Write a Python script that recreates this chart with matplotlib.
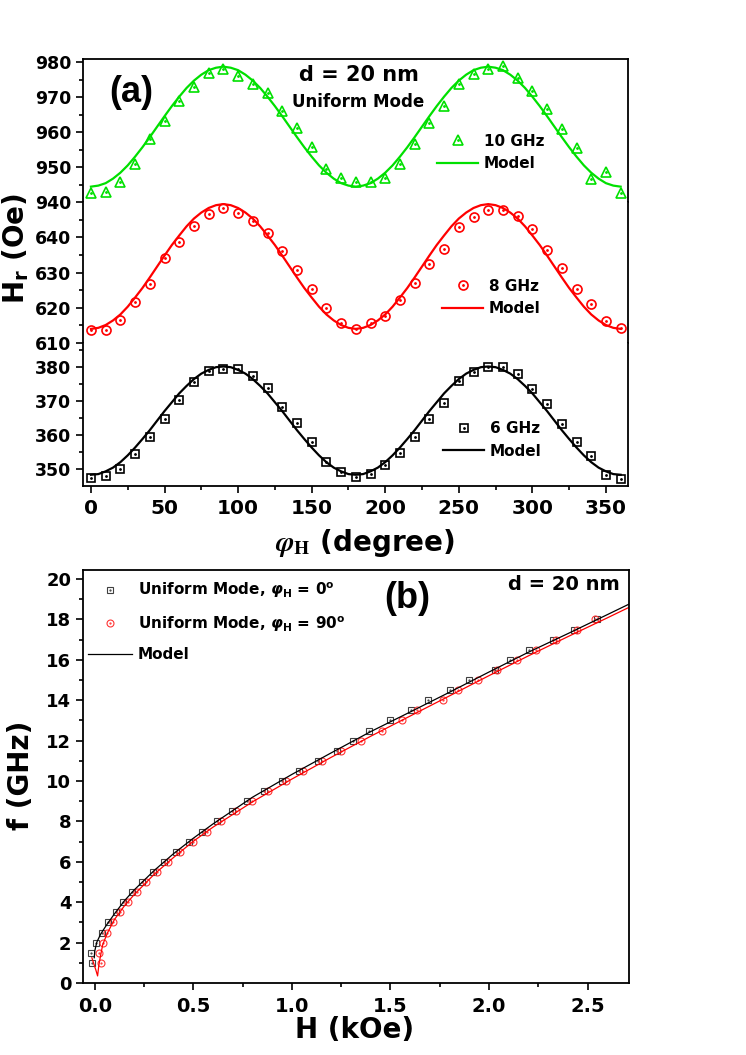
import matplotlib
matplotlib.use("Agg")
import matplotlib.pyplot as plt

plt.rcParams['font.family'] = ['DejaVu Sans']
plt.rcParams['font.weight'] = 'bold'
plt.rcParams['mathtext.fontset'] = 'dejavusans'

# (a) angular dependence of the resonance field
phi = [0, 10, 20, 30, 40, 50, 60, 70, 80, 90, 100, 110, 120, 130, 140, 150, 160, 170, 180,
       190, 200, 210, 220, 230, 240, 250, 260, 270, 280, 290, 300, 310, 320, 330, 340, 350, 360]

hr_10ghz = [942.5, 943.0, 945.8, 951.0, 958.0, 963.3, 968.9, 972.9, 977.0, 978.2, 976.0, 973.9,
            971.3, 966.0, 961.2, 955.9, 949.4, 947.0, 945.6, 945.8, 947.0, 951.0, 956.6, 962.6,
            967.4, 973.9, 976.7, 978.2, 978.9, 975.5, 971.9, 966.7, 961.0, 955.6, 946.5, 948.7, 942.5]
hr_8ghz = [613.7, 613.8, 616.5, 621.5, 626.8, 634.0, 638.7, 643.1, 646.7, 648.3, 647.0, 644.6,
           641.2, 636.1, 630.7, 625.3, 619.8, 615.6, 614.0, 615.6, 617.7, 622.2, 626.9, 632.4,
           636.8, 643.0, 645.8, 647.7, 647.7, 646.1, 642.4, 636.3, 631.2, 625.4, 621.0, 616.3, 614.2]
hr_6ghz = [347.3, 348.0, 350.0, 354.5, 359.5, 364.8, 370.3, 375.6, 378.8, 379.3, 379.3, 377.4,
           373.9, 368.2, 363.6, 358.0, 352.1, 349.0, 347.6, 348.5, 351.2, 354.6, 359.5, 364.7,
           369.3, 375.9, 378.4, 379.9, 379.9, 377.9, 373.4, 369.0, 363.1, 358.0, 353.8, 348.2, 347.1]

# model curves, read every 5 degrees
phi_model = [0, 5, 10, 15, 20, 25, 30, 35, 40, 45, 50, 55, 60, 65, 70, 75, 80, 85, 90,
             95, 100, 105, 110, 115, 120, 125, 130, 135, 140, 145, 150, 155, 160, 165, 170, 175, 180,
             185, 190, 195, 200, 205, 210, 215, 220, 225, 230, 235, 240, 245, 250, 255, 260, 265, 270,
             275, 280, 285, 290, 295, 300, 305, 310, 315, 320, 325, 330, 335, 340, 345, 350, 355, 360]
model_10ghz = [944.4, 944.7, 945.4, 946.7, 948.4, 950.5, 953.0, 955.7, 958.6, 961.6, 964.6, 967.5,
               970.2, 972.7, 974.8, 976.5, 977.8, 978.5, 978.8,
               978.5, 977.8, 976.5, 974.8, 972.7, 970.2, 967.5, 964.6, 961.6, 958.6, 955.7, 953.0,
               950.5, 948.4, 946.7, 945.4, 944.7, 944.4,
               944.7, 945.4, 946.7, 948.4, 950.5, 953.0, 955.7, 958.6, 961.6, 964.6, 967.5,
               970.2, 972.7, 974.8, 976.5, 977.8, 978.5, 978.8,
               978.5, 977.8, 976.5, 974.8, 972.7, 970.2, 967.5, 964.6, 961.6, 958.6, 955.7, 953.0,
               950.5, 948.4, 946.7, 945.4, 944.7, 944.4]
model_8ghz = [614.0, 614.3, 615.1, 616.4, 618.1, 620.3, 622.9, 625.6, 628.6, 631.7, 634.8, 637.8,
              640.5, 643.1, 645.3, 647.0, 648.3, 649.1, 649.4,
              649.1, 648.3, 647.0, 645.3, 643.1, 640.5, 637.8, 634.8, 631.7, 628.6, 625.6, 622.9,
              620.3, 618.1, 616.4, 615.1, 614.3, 614.0,
              614.3, 615.1, 616.4, 618.1, 620.3, 622.9, 625.6, 628.6, 631.7, 634.8, 637.8,
              640.5, 643.1, 645.3, 647.0, 648.3, 649.1, 649.4,
              649.1, 648.3, 647.0, 645.3, 643.1, 640.5, 637.8, 634.8, 631.7, 628.6, 625.6, 622.9,
              620.3, 618.1, 616.4, 615.1, 614.3, 614.0]
model_6ghz = [348.3, 348.5, 349.3, 350.4, 352.0, 354.0, 356.3, 358.8, 361.4, 364.2, 367.0, 369.6,
              372.2, 374.4, 376.4, 378.0, 379.1, 379.9, 380.1,
              379.9, 379.1, 378.0, 376.4, 374.4, 372.2, 369.6, 367.0, 364.2, 361.4, 358.8, 356.3,
              354.0, 352.0, 350.4, 349.3, 348.5, 348.3,
              348.5, 349.3, 350.4, 352.0, 354.0, 356.3, 358.8, 361.4, 364.2, 367.0, 369.6,
              372.2, 374.4, 376.4, 378.0, 379.1, 379.9, 380.1,
              379.9, 379.1, 378.0, 376.4, 374.4, 372.2, 369.6, 367.0, 364.2, 361.4, 358.8, 356.3,
              354.0, 352.0, 350.4, 349.3, 348.5, 348.3]

# (b) frequency vs field
freq = [1, 1.5, 2, 2.5, 3, 3.5, 4, 4.5, 5, 5.5, 6, 6.5, 7, 7.5, 8, 8.5, 9, 9.5, 10, 10.5,
        11, 11.5, 12, 12.5, 13, 13.5, 14, 14.5, 15, 15.5, 16, 16.5, 17, 17.5, 18]
h_phi0 = [-0.012, -0.017, 0.008, 0.034, 0.068, 0.105, 0.144, 0.188, 0.239, 0.293, 0.349, 0.411,
          0.476, 0.543, 0.618, 0.697, 0.770, 0.858, 0.948, 1.036, 1.130, 1.227, 1.311, 1.390,
          1.497, 1.604, 1.689, 1.802, 1.898, 2.030, 2.107, 2.205, 2.323, 2.431, 2.546]
h_phi90 = [0.029, 0.020, 0.039, 0.063, 0.093, 0.127, 0.169, 0.212, 0.259, 0.313, 0.369, 0.431,
           0.496, 0.567, 0.638, 0.716, 0.799, 0.880, 0.968, 1.058, 1.154, 1.247, 1.349, 1.455,
           1.557, 1.633, 1.765, 1.844, 1.946, 2.039, 2.140, 2.237, 2.339, 2.448, 2.535]

model0_h = [-0.003, 0.0, 0.01, 0.03, 0.06, 0.1, 0.15, 0.2, 0.3, 0.4, 0.5, 0.6, 0.8, 1.0, 1.2,
            1.4, 1.6, 1.8, 2.0, 2.2, 2.4, 2.6, 2.71]
model0_f = [1.25, 1.6, 2.02, 2.43, 2.88, 3.43, 4.07, 4.61, 5.56, 6.41, 7.17, 7.88, 9.2, 10.33,
            11.4, 12.45, 13.42, 14.4, 15.4, 16.38, 17.3, 18.24, 18.76]
model90_h = [-0.015, -0.005, 0.005, 0.014, 0.02, 0.028, 0.04, 0.065, 0.1, 0.15, 0.2, 0.3, 0.4,
             0.5, 0.6, 0.8, 1.0, 1.2, 1.4, 1.6, 1.8, 2.0, 2.2, 2.4, 2.6, 2.71]
model90_f = [1.25, 0.95, 0.65, 0.35, 0.85, 1.3, 1.9, 2.5, 3.15, 3.82, 4.38, 5.37, 6.22, 7.02,
             7.72, 8.97, 10.1, 11.18, 12.22, 13.22, 14.22, 15.22, 16.2, 17.15, 18.08, 18.6]

GREEN = '#00e000'
RED = '#ff0000'

W_PX, H_PX = 746, 1055


def fx(px):
    return px / W_PX


def fy(px):
    return 1 - px / H_PX


fig = plt.figure(figsize=(W_PX / 100, H_PX / 100), dpi=100)

left, width = fx(83), fx(628) - fx(83)
ax_g = fig.add_axes([left, fy(202), width, (202 - 59) / H_PX])
ax_r = fig.add_axes([left, fy(343), width, (343 - 202) / H_PX])
ax_k = fig.add_axes([left, fy(486), width, (486 - 343) / H_PX])
ax_b = fig.add_axes([left, fy(983), fx(629) - fx(83), (983 - 570) / H_PX])

for ax in (ax_g, ax_r, ax_k, ax_b):
    for s in ax.spines.values():
        s.set_linewidth(1.3)
    ax.tick_params(which='both', direction='out', width=1.2, right=False, top=False)
    ax.tick_params(which='major', length=5)
    ax.tick_params(which='minor', length=3)

# stacked axes act as one broken axis
ax_g.spines['bottom'].set_visible(False)
ax_r.spines['top'].set_visible(False)
ax_r.spines['bottom'].set_visible(False)
ax_k.spines['top'].set_visible(False)
for ax in (ax_g, ax_r):
    ax.tick_params(axis='x', which='both', bottom=False, labelbottom=False)


def angle_series(ax, data, model, color, marker, ms):
    pts = ax.plot(phi, data, ls='none', marker=marker, ms=ms, mfc='none', mec=color, mew=1.2)[0]
    dot = ax.plot(phi, data, ls='none', marker='.', ms=2, color=color)[0]
    line = ax.plot(phi_model, model, color=color, lw=1.6)[0]
    return (pts, dot), line


g_pts, g_line = angle_series(ax_g, hr_10ghz, model_10ghz, GREEN, '^', 7.5)
r_pts, r_line = angle_series(ax_r, hr_8ghz, model_8ghz, RED, 'o', 6.5)
k_pts, k_line = angle_series(ax_k, hr_6ghz, model_6ghz, 'black', 's', 5.5)

for ax in (ax_g, ax_r, ax_k):
    ax.set_xlim(-5.4, 365)

ax_g.set_ylim(940, 981)
ax_g.set_yticks([940, 950, 960, 970, 980])
ax_g.set_yticks([945, 955, 965, 975], minor=True)
ax_r.set_ylim(610, 650)
ax_r.set_yticks([610, 620, 630, 640])
ax_r.set_yticks([615, 625, 635, 645], minor=True)
ax_k.set_ylim(345, 387)
ax_k.set_yticks([350, 360, 370, 380])
ax_k.set_yticks([355, 365, 375, 385], minor=True)
ax_k.set_xticks([0, 50, 100, 150, 200, 250, 300, 350])
ax_k.set_xticks([25, 75, 125, 175, 225, 275, 325], minor=True)

for ax in (ax_g, ax_r, ax_k):
    ax.tick_params(axis='y', labelsize=12.5)
ax_k.tick_params(axis='x', labelsize=14.5, pad=4)

leg_kw = dict(loc='center left', bbox_transform=fig.transFigure, frameon=False, borderpad=0,
              borderaxespad=0, handlelength=2.7, handletextpad=0.35, labelspacing=0.5,
              prop={'size': 11, 'weight': 'bold'})
ax_g.legend([g_pts, g_line], ['10 GHz', 'Model'], bbox_to_anchor=(fx(437), fy(152.5)), **leg_kw)
ax_r.legend([r_pts, r_line], ['8 GHz', 'Model'], bbox_to_anchor=(fx(442), fy(297.5)), **leg_kw)
ax_k.legend([k_pts, k_line], ['6 GHz', 'Model'], bbox_to_anchor=(fx(443), fy(440)), **leg_kw)

fig.text(fx(131), fy(93), '(a)', family='Liberation Sans', fontsize=26, weight='bold',
         ha='center', va='center')
fig.text(fx(359), fy(75), 'd = 20 nm', fontsize=15, weight='bold', ha='center', va='center')
fig.text(fx(358), fy(102), 'Uniform Mode', fontsize=12, weight='bold', ha='center', va='center')
fig.text(fx(16), fy(248), r'$\mathbf{H_r}$ (Oe)', fontsize=20, weight='bold', rotation=90,
         ha='center', va='center')
fig.text(fx(365), fy(543), r'$\varphi_\mathrm{H}$ (degree)', fontsize=20, weight='bold',
         math_fontfamily='stix', ha='center', va='center')

# (b)
pts0 = ax_b.plot(h_phi0, freq, ls='none', marker='s', ms=4.5, mfc='none', mec='#404040', mew=0.8)[0]
dot0 = ax_b.plot(h_phi0, freq, ls='none', marker='.', ms=1.2, color='#404040')[0]
pts90 = ax_b.plot(h_phi90, freq, ls='none', marker='o', ms=5, mfc='none', mec='#ff3333', mew=0.8)[0]
dot90 = ax_b.plot(h_phi90, freq, ls='none', marker='.', ms=1.2, color='#ff3333')[0]
line0 = ax_b.plot(model0_h, model0_f, color='black', lw=0.9)[0]
ax_b.plot(model90_h, model90_f, color=RED, lw=0.9)

ax_b.set_xlim(-0.06, 2.71)
ax_b.set_ylim(0, 20.45)
ax_b.set_xticks([0.0, 0.5, 1.0, 1.5, 2.0, 2.5])
ax_b.set_xticks([0.25, 0.75, 1.25, 1.75, 2.25], minor=True)
ax_b.set_yticks([0, 2, 4, 6, 8, 10, 12, 14, 16, 18, 20])
ax_b.set_yticks([1, 3, 5, 7, 9, 11, 13, 15, 17, 19], minor=True)
ax_b.set_xticklabels(['0.0', '0.5', '1.0', '1.5', '2.0', '2.5'])
ax_b.tick_params(axis='x', labelsize=14, pad=5)
ax_b.tick_params(axis='y', labelsize=13)

ax_b.legend([(pts0, dot0), (pts90, dot90), line0],
            [r'Uniform Mode, $\varphi_\mathbf{H}$ = 0$^\mathbf{o}$',
             r'Uniform Mode, $\varphi_\mathbf{H}$ = 90$^\mathbf{o}$',
             'Model'],
            loc='center left', bbox_to_anchor=(fx(88), fy(621.5)), bbox_transform=fig.transFigure,
            frameon=False, borderpad=0, borderaxespad=0, handlelength=2.9, handletextpad=0.35,
            labelspacing=0.9, prop={'size': 11, 'weight': 'bold'})

fig.text(fx(407), fy(598), '(b)', family='Liberation Sans', fontsize=26, weight='bold',
         ha='center', va='center')
fig.text(fx(620), fy(585), 'd = 20 nm', fontsize=14, weight='bold', ha='right', va='center')
fig.text(fx(21), fy(775), 'f (GHz)', fontsize=20, weight='bold', rotation=90,
         ha='center', va='center')
fig.text(fx(355), fy(1030), 'H (kOe)', fontsize=20, weight='bold', ha='center', va='center')

fig.savefig('out.png', dpi=100)
